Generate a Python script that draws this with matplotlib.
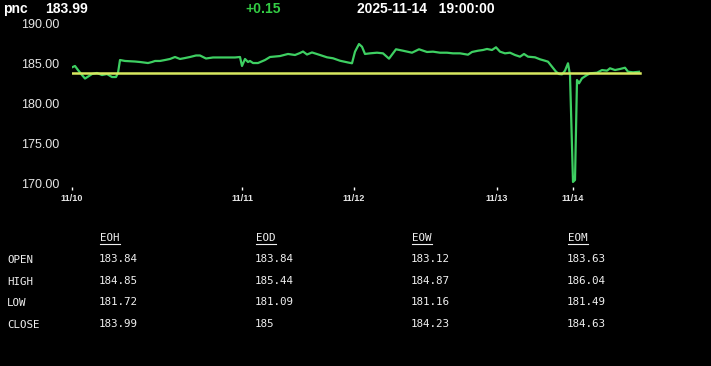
import matplotlib
matplotlib.use("Agg")
import matplotlib.pyplot as plt
from matplotlib.lines import Line2D

# ---- data ----
symbol = "pnc"
last_price = "183.99"
change = "+0.15"
timestamp = "2025-11-14   19:00:00"

# session offsets (x) and prices (y)
t = [0, 3, 6, 10, 13, 17, 20, 25, 30, 35, 40, 44, 46, 48, 53, 63, 68, 76, 80, 83,
     88, 93, 98, 103, 108, 113, 118, 124, 128, 134, 141, 153, 163, 168, 170, 173, 176,
     178, 181, 186, 193, 198, 208, 216, 223, 228, 231, 235, 240, 248, 255, 261, 268,
     276, 280, 283, 287, 290, 293, 298, 305, 311, 317, 324, 331, 340, 347, 355, 361,
     368, 375, 381, 388, 396, 400, 406, 411, 415, 420, 424, 428, 433, 438, 443, 448,
     452, 456, 463, 468, 473, 476, 480, 484, 487, 490, 493, 496, 498, 501, 503, 505,
     507, 510, 515, 518, 525, 530, 535, 538, 543, 548, 553, 556, 561, 567]
price = [184.55, 184.72, 184.21, 183.58, 183.14, 183.46, 183.71, 183.84, 183.58, 183.71,
         183.33, 183.33, 183.84, 185.47, 185.35, 185.28, 185.22, 185.09, 185.22, 185.35,
         185.35, 185.47, 185.60, 185.85, 185.60, 185.72, 185.85, 186.04, 186.04, 185.66,
         185.79, 185.79, 185.79, 185.85, 184.72, 185.60, 185.22, 185.35, 185.09, 185.09,
         185.47, 185.85, 185.97, 186.23, 186.10, 186.35, 186.54, 186.16, 186.42, 186.10,
         185.81, 185.69, 185.38, 185.16, 185.06, 186.52, 187.48, 187.14, 186.23, 186.31,
         186.39, 186.31, 185.64, 186.82, 186.64, 186.39, 186.82, 186.48, 186.52, 186.39,
         186.39, 186.31, 186.31, 186.14, 186.48, 186.64, 186.73, 186.86, 186.73, 187.07,
         186.52, 186.31, 186.39, 186.10, 185.89, 186.23, 185.89, 185.81, 185.56, 185.38,
         185.26, 184.63, 184.00, 183.71, 183.67, 184.13, 185.06, 183.58, 170.13, 170.38,
         182.96, 182.54, 183.17, 183.58, 183.80, 183.87, 184.21, 184.13, 184.43, 184.21,
         184.34, 184.50, 184.00, 183.92, 183.99]
ref_price = 183.84

day_ticks = [0, 170, 282, 425, 501]
day_labels = ["11/10", "11/11", "11/12", "11/13", "11/14"]
y_ticks = [170, 175, 180, 185, 190]

table_cols = ["EOH", "EOD", "EOW", "EOM"]
table_rows = ["OPEN", "HIGH", "LOW", "CLOSE"]
table_vals = [
    ["183.84", "183.84", "183.12", "183.63"],
    ["184.85", "185.44", "184.87", "186.04"],
    ["181.72", "181.09", "181.16", "181.49"],
    ["183.99", "185", "184.23", "184.63"],
]

# ---- figure ----
W, H = 711, 366
fig = plt.figure(figsize=(W / 100, H / 100), dpi=100, facecolor="black")

def fx(px):
    return px / W

def fy(py):
    return 1 - py / H

ax = fig.add_axes([fx(72), fy(183), fx(650) - fx(72), fy(24) - fy(183)])
ax.set_facecolor("black")
ax.plot(t, price, color="#3ecf62", lw=1.6, solid_joinstyle="round")
ax.axhline(ref_price, xmin=0, xmax=(t[-1] + 1) / 578, color="#d8e860", lw=1.8)
ax.set_xlim(0, 578)
ax.set_ylim(170, 190)
for s in ax.spines.values():
    s.set_visible(False)
ax.spines["bottom"].set_position(("outward", 3))
ax.set_yticks(y_ticks)
ax.set_yticklabels([f"{v:.2f}" for v in y_ticks], family="Liberation Sans",
                   fontsize=9, color="#e6e6e6")
ax.tick_params(axis="y", length=0, pad=9)
ax.set_xticks(day_ticks)
ax.set_xticklabels(day_labels, family="Liberation Sans", fontsize=6.5,
                   fontweight="bold", color="#e6e6e6")
ax.tick_params(axis="x", length=2.5, width=1, color="white", pad=2.5)

# header
hdr = dict(family="Liberation Sans", fontsize=10, fontweight="bold", va="center")
fig.text(fx(3), fy(9), symbol, color="white", **hdr)
fig.text(fx(45), fy(9), last_price, color="white", **hdr)
fig.text(fx(245), fy(9), change, color="#33cc44", **hdr)
fig.text(fx(357), fy(9), timestamp, color="white", **hdr)

# table
mono = dict(family="DejaVu Sans Mono", fontsize=7.8, color="#f0f0f0", va="center")
col_x = [99, 255, 411, 567]
row_y = [259, 281, 302, 324]
for cx, name in zip(col_x, table_cols):
    fig.text(fx(cx + 1), fy(238), name, **mono)
    fig.add_artist(Line2D([fx(cx + 1), fx(cx + 21)], [fy(244), fy(244)],
                          color="#f0f0f0", lw=0.8, transform=fig.transFigure))
for ry, name in zip(row_y, table_rows):
    fig.text(fx(7), fy(ry + 1), name, **mono)
for r, ry in enumerate(row_y):
    for c, cx in enumerate(col_x):
        fig.text(fx(cx), fy(ry), table_vals[r][c], **mono)

fig.savefig("out.png", dpi=100, facecolor="black")
